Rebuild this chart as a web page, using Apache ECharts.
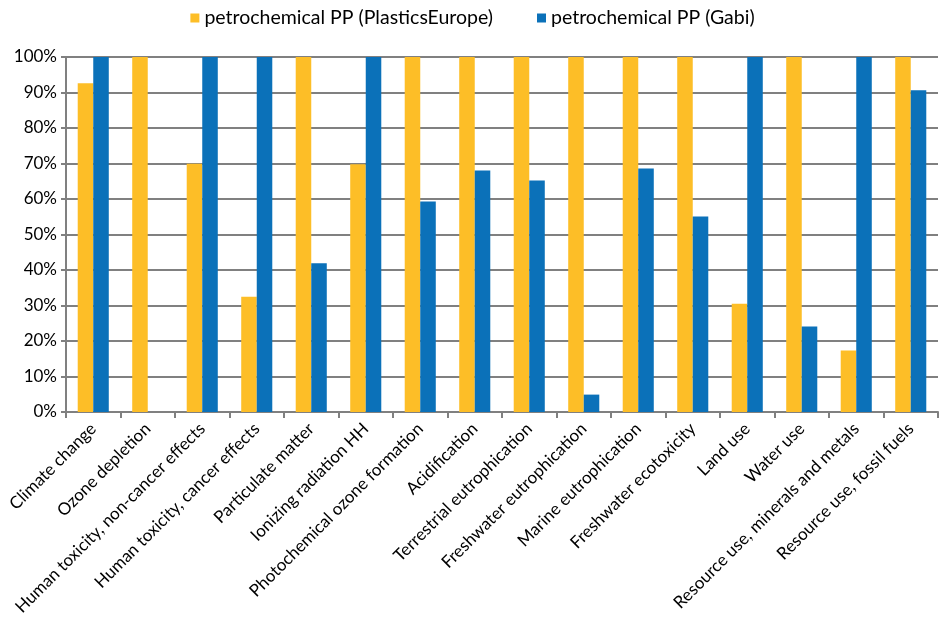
<!DOCTYPE html>
<html>
<head>
<meta charset="utf-8">
<script src="https://cdn.jsdelivr.net/npm/echarts@6/dist/echarts.min.js"></script>
<style>
  html, body { margin: 0; padding: 0; background: #fff; }
  #chart { width: 945px; height: 625px; }
</style>
</head>
<body>
<div id="chart"></div>
<script>
// Impact categories (x axis)
const categories = [
  'Climate change', 'Ozone depletion', 'Human toxicity, non-cancer effects',
  'Human toxicity, cancer effects', 'Particulate matter', 'Ionizing radiation HH',
  'Photochemical ozone formation', 'Acidification', 'Terrestrial eutrophication',
  'Freshwater eutrophication', 'Marine eutrophication', 'Freshwater ecotoxicity',
  'Land use', 'Water use', 'Resource use, minerals and metals', 'Resource use, fossil fuels'
];

// Relative impact (%), normalised to the larger of the two datasets
const plasticsEurope = [92.6, 100, 69.9, 32.5, 100, 69.8, 100, 100, 100, 100, 100, 100, 30.5, 100, 17.3, 100];
const gabi = [100, 0, 100, 100, 41.9, 100, 59.3, 68.0, 65.2, 4.9, 68.6, 55.1, 100, 24.1, 100, 90.6];

const seriesNames = ['petrochemical PP (PlasticsEurope)', 'petrochemical PP (Gabi)'];
const yTicks = { min: 0, max: 100, interval: 10 };

const font = 'Lato, "Open Sans", sans-serif';
const chart = echarts.init(document.getElementById('chart'));

chart.setOption({
  animation: false,
  textStyle: { fontFamily: font },
  legend: {
    top: 3,
    left: 'center',
    itemWidth: 9,
    itemHeight: 9,
    itemGap: 44,
    icon: 'rect',
    textStyle: { fontSize: 19.5, color: '#000', fontFamily: font },
    data: seriesNames
  },
  grid: { left: 66, right: 7, top: 57, bottom: 213, containLabel: false },
  xAxis: {
    type: 'category',
    data: categories,
    boundaryGap: true,
    axisLine: { lineStyle: { color: '#808080', width: 2 } },
    axisTick: { show: true, alignWithLabel: false, length: 6, lineStyle: { color: '#808080', width: 2 } },
    axisLabel: {
      interval: 0,
      rotate: 45,
      fontSize: 17,
      color: '#000',
      fontFamily: font,
      margin: 14
    }
  },
  yAxis: {
    type: 'value',
    min: yTicks.min,
    max: yTicks.max,
    interval: yTicks.interval,
    axisLine: { show: true, lineStyle: { color: '#808080', width: 2 } },
    axisTick: { show: true, length: 5, lineStyle: { color: '#808080', width: 2 } },
    splitLine: { lineStyle: { color: '#808080', width: 2 } },
    axisLabel: {
      formatter: '{value}%',
      fontSize: 17,
      color: '#000',
      fontFamily: font,
      margin: 9
    }
  },
  series: [
    {
      name: seriesNames[0],
      type: 'bar',
      data: plasticsEurope,
      itemStyle: { color: '#FDBE27' },
      barWidth: '28.5%',
      barGap: '0%'
    },
    {
      name: seriesNames[1],
      type: 'bar',
      data: gabi,
      itemStyle: { color: '#0B71B9' },
      barWidth: '28.5%',
      barGap: '0%'
    }
  ]
});
</script>
</body>
</html>
